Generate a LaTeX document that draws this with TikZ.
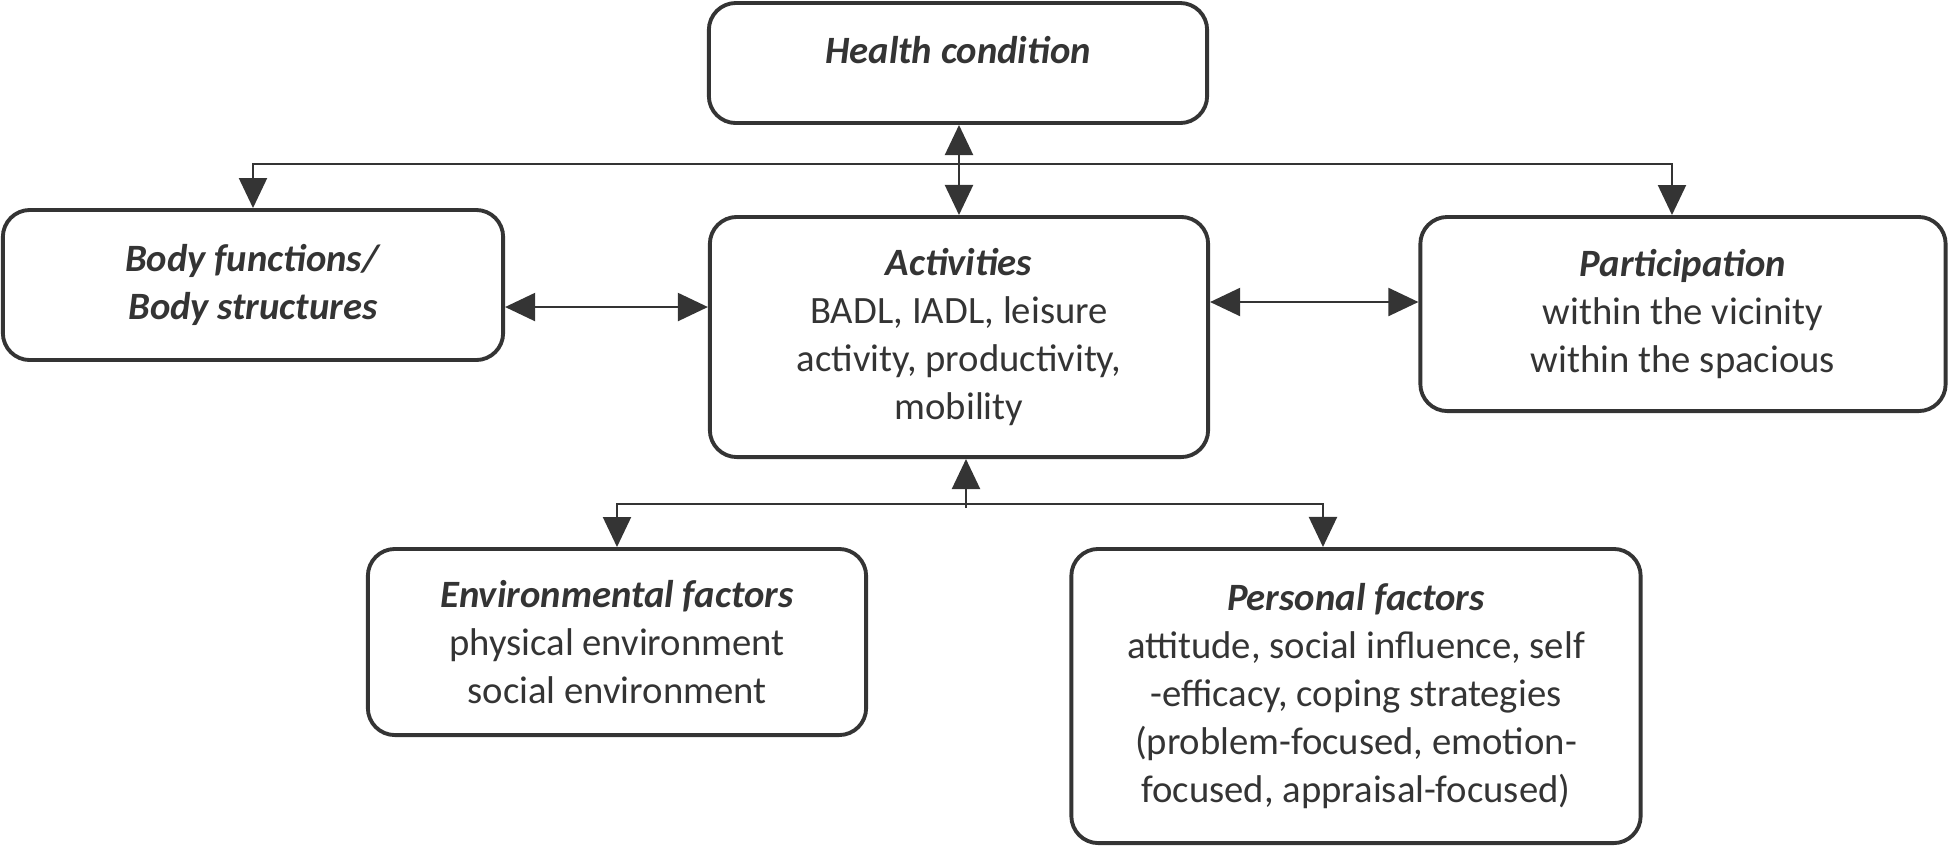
\documentclass[tikz,border=0pt]{standalone}
\usepackage{fontspec}
\setmainfont{Carlito}
\usetikzlibrary{arrows.meta}
\definecolor{icfgray}{RGB}{52,52,52}
\tikzset{
  icfbox/.style={draw=icfgray, line width=1.1pt, rounded corners=0.27cm,
    align=center, text=icfgray, font=\fontsize{11}{13.6}\selectfont},
  icflink/.style={draw=icfgray, line width=0.6pt,
    -{Triangle[length=0.3cm,width=0.28cm]}},
  icfboth/.style={icflink, {Triangle[length=0.3cm,width=0.28cm]}-{Triangle[length=0.3cm,width=0.28cm]}}
}
\begin{document}
\begin{tikzpicture}[x=0.01cm, y=-0.01cm]
      \useasboundingbox (0,0) rectangle (1950,847);
      \node[icfbox, minimum width=4.98cm, minimum height=1.2cm, text depth=0.26cm] (health) at (958,63) {\textbf{\textit{Health condition}}};
      \node[icfbox, minimum width=5.0cm, minimum height=1.5cm] (body) at (253,285) {\textbf{\textit{Body functions/}}\\\textbf{\textit{Body structures}}};
      \node[icfbox, minimum width=4.98cm, minimum height=2.4cm] (act) at (959,337) {\textbf{\textit{Activities}}\\BADL, IADL, leisure\\activity, productivity,\\mobility};
      \node[icfbox, minimum width=5.25cm, minimum height=1.94cm] (part) at (1683,314) {\textbf{\textit{Participation}}\\within the vicinity\\within the spacious};
      \node[icfbox, minimum width=4.98cm, minimum height=1.86cm] (env) at (617,642) {\textbf{\textit{Environmental factors}}\\physical environment\\social environment};
      \node[icfbox, minimum width=5.69cm, minimum height=2.94cm] (pers) at (1356,696) {\textbf{\textit{Personal factors}}\\attitude, social influence, self\\-efficacy, coping strategies\\(problem-focused, emotion-\\focused, appraisal-focused)};
      % links from the health condition
      \coordinate (hub) at (959,164);
      \draw[icfboth] (health.south -| hub) -- (act.north -| hub);
      \draw[icflink] (hub) -| (body.north);
      \draw[icflink] (hub) -| ([xshift=-0.11cm]part.north);
      % side links
      \draw[icfboth] ([yshift=-0.22cm]body.east) -- ([yshift=-0.22cm]body.east -| act.west);
      \draw[icfboth] ([yshift=0.12cm]part.west -| act.east) -- ([yshift=0.12cm]part.west);
      % contextual factors
      \coordinate (fork) at (966,504);
      \draw[icflink] ([yshift=-0.04cm]fork) -- (act.south -| fork);
      \draw[icflink] (fork) -| (env.north);
      \draw[icflink] (fork) -| ([xshift=-0.33cm]pers.north);
\end{tikzpicture}
\end{document}
